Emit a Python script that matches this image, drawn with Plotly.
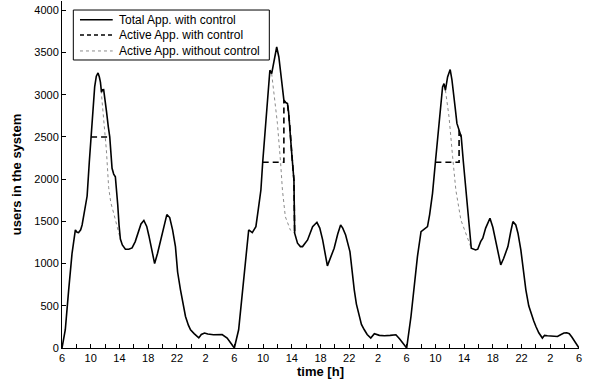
import plotly.graph_objects as go

# ---------------- data (hours since 6:00 of day 1) ----------------
total_hours = [
    0, 0.46, 0.93, 1.4, 1.86, 2.1, 2.3, 2.6, 2.8, 3.1, 3.5, 3.8, 4.05, 4.3, 4.55, 4.78, 5.02, 5.2, 5.35,
    5.5, 5.65, 5.8, 5.95, 6.2, 6.45, 6.65, 6.97, 7.2, 7.43, 7.6, 7.76, 7.95, 8.13, 8.4, 8.83, 9.3, 9.76,
    10.2, 10.7, 11.0, 11.4, 11.8, 12.1, 12.5, 12.9, 13.3, 13.7, 14.1, 14.6, 15.0, 15.4, 15.8, 16.1, 16.5,
    16.9, 17.2, 17.6, 17.9, 18.4, 19.05, 19.4, 19.85, 20.3, 21.1, 22.3, 22.7, 23.0, 23.5,
    24, 24.6, 25.1, 25.6, 26.0, 26.5, 27.0, 27.35, 27.7, 27.95, 28.3, 28.6, 28.95, 29.2, 29.5, 29.9, 30.2,
    30.55, 30.9, 31.1, 31.4, 31.55, 31.7, 32.0, 32.3, 32.4, 32.8, 33.2, 33.5, 34.2, 34.9, 35.5, 35.9, 36.3,
    36.96, 37.4, 37.9, 38.4, 38.8, 39.1, 39.5, 40.1, 40.4, 40.7, 41.0, 41.4, 41.7, 42.1, 42.5, 43.0, 43.5,
    44.2, 44.9, 45.7, 46.5, 47.0, 47.5,
    48, 48.6, 49.0, 49.5, 50.0, 50.4, 50.9, 51.2, 51.6, 52.0, 52.3, 52.7, 53.0, 53.2, 53.4, 53.7, 54.06,
    54.3, 54.5, 54.75, 55.0, 55.3, 55.6, 55.9, 56.25, 56.7, 57.0, 57.6, 57.9, 58.3, 58.6, 59.0, 59.6, 60.0,
    60.4, 60.8, 61.1, 61.5, 62.1, 62.5, 62.8, 63.2, 63.5, 63.9, 64.2, 64.6, 65.0, 65.3, 65.7, 66.0, 66.4,
    66.9, 67.2, 67.6, 68.3, 69.0, 69.5, 69.9, 70.3, 70.65, 71.0, 71.5, 72,
]
total_users = [
    0, 216, 689, 1122, 1398, 1370, 1366, 1400, 1457, 1600, 1800, 2200, 2500, 2820, 3092, 3219, 3258, 3210, 3150,
    3030, 3060, 3061, 2980, 2800, 2620, 2500, 2128, 2060, 2028, 1880, 1700, 1450, 1290, 1220, 1170, 1170, 1185,
    1260, 1380, 1470, 1510, 1440, 1330, 1150, 1000, 1120, 1260, 1420, 1580, 1545, 1400, 1200, 900, 689,
    480, 373, 270, 216, 170, 120, 160, 177, 165, 157, 160, 140, 118, 60,
    0, 216, 650, 1083, 1398, 1366, 1437, 1650, 1871, 2200, 2600, 2974, 3290, 3250, 3369, 3565, 3447,
    3200, 2935, 2910, 2896, 2800, 2660, 2300, 1990, 1360, 1241, 1201, 1201, 1280, 1437, 1489, 1420, 1280,
    973, 1080, 1182, 1350, 1457, 1420, 1339, 1142, 900, 689, 520, 373, 280, 216, 160, 118, 169,
    150, 145, 150, 157, 110, 60,
    0, 373, 700, 1083, 1378, 1400, 1437, 1580, 1832, 2200, 2462, 2856, 3092, 3132, 3053, 3210, 3298,
    3180, 3053, 2850, 2660, 2580, 2501, 2200, 1871, 1437, 1182, 1162, 1170, 1260, 1300, 1420, 1537, 1430,
    1280, 1100, 985, 1060, 1201, 1380, 1497, 1457, 1360, 1162, 950, 689, 500, 413, 320, 255, 180,
    118, 150, 145, 140, 137, 160, 177, 180, 169, 130, 70, 0,
]

# Active applications with control (where it departs from the total)
active_hours = [4.05, 6.65, None,
                27.95, 30.9, 30.9, 31.1, 31.4, 31.55, 31.7, 32.0, 32.3, 32.4, None,
                52.0, 55.3, 55.3, 55.6]
active_users = [2500, 2500, None,
                2200, 2200, 2935, 2910, 2896, 2800, 2660, 2300, 1990, 1360, None,
                2200, 2200, 2580, 2501]

# Active applications without control (where it departs from the total)
free_hours = [5.45, 5.8, 6.18, 6.5, 6.8, 7.2, 7.6, 7.9, 8.13, None,
              29.2, 29.5, 30.0, 30.45, 30.7, 31.1, 31.5, 31.8, 32.3, 32.4, None,
              53.4, 53.9, 54.4, 54.85, 55.55, 56.25, 56.9, 57.0]
free_users = [3050, 2738, 2344, 1900, 1720, 1596, 1450, 1360, 1290, None,
              3250, 3050, 2660, 2187, 1871, 1556, 1450, 1398, 1365, 1360, None,
              3053, 2738, 2265, 1871, 1517, 1360, 1201, 1182]

tick_positions = list(range(0, 73, 2))
tick_labels = ["6", "", "10", "", "14", "", "18", "", "22", "", "2", "",
               "6", "", "10", "", "14", "", "18", "", "22", "", "2", "",
               "6", "", "10", "", "14", "", "18", "", "22", "", "2", "", "6"]
y_ticks = [0, 500, 1000, 1500, 2000, 2500, 3000, 3500, 4000]

series_names = ["Total App. with control", "Active App. with control", "Active App. without control"]

# ---------------- styles ----------------
solid_style = dict(color="black", width=1.6)
dash_style = dict(color="black", width=1.6, dash="6px,4px")
dot_style = dict(color="#8c8c8c", width=1, dash="dot")

fig = go.Figure()
fig.add_trace(go.Scatter(x=free_hours, y=free_users, mode="lines", name=series_names[2],
                         line=dot_style, connectgaps=False, showlegend=False))
fig.add_trace(go.Scatter(x=total_hours, y=total_users, mode="lines", name=series_names[0],
                         line=solid_style, showlegend=False))
fig.add_trace(go.Scatter(x=active_hours, y=active_users, mode="lines", name=series_names[1],
                         line=dash_style, connectgaps=False, showlegend=False))

# ---------------- legend box (drawn in paper coordinates) ----------------
shapes = [dict(type="rect", xref="paper", yref="paper", x0=0.0219, x1=0.401, y0=0.830, y1=0.974,
               line=dict(color="black", width=1), fillcolor="white", layer="above")]
annotations = []
row_y = [0.946, 0.902, 0.856]
legend_lines = [dict(color="black", width=1.3),
                dict(color="black", width=1.4, dash="4px,3px"),
                dict(color="#8c8c8c", width=1, dash="dot")]
for name, yy, st in zip(series_names, row_y, legend_lines):
    shapes.append(dict(type="line", xref="paper", yref="paper", x0=0.0348, x1=0.0981, y0=yy, y1=yy,
                       line=st, layer="above"))
    annotations.append(dict(text=name, xref="paper", yref="paper", x=0.106, y=yy,
                            xanchor="left", yanchor="middle", showarrow=False,
                            font=dict(size=12, color="black")))

font_family = "Arial, Liberation Sans, Helvetica, sans-serif"
fig.update_layout(
    width=590, height=387,
    margin=dict(l=62, r=11, t=1, b=39),
    paper_bgcolor="white", plot_bgcolor="white",
    font=dict(family=font_family, size=11, color="black"),
    showlegend=False,
    shapes=shapes,
    annotations=annotations,
)
fig.update_xaxes(
    range=[0, 72], tickmode="array", tickvals=tick_positions, ticktext=tick_labels,
    ticks="inside", ticklen=4, tickcolor="black", tickwidth=1,
    showline=True, linecolor="black", linewidth=1, showgrid=False, zeroline=False,
    title=dict(text="<b>time [h]</b>", font=dict(size=13), standoff=2),
    tickfont=dict(size=11),
)
fig.update_yaxes(
    range=[0, 4110], tickmode="array", tickvals=y_ticks,
    ticks="inside", ticklen=4, tickcolor="black", tickwidth=1,
    showline=True, linecolor="black", linewidth=1, showgrid=False, zeroline=False,
    title=dict(text="<b>users in the system</b>", font=dict(size=13), standoff=9),
    tickfont=dict(size=11),
)

fig.write_html("out.html", config={"displayModeBar": False},
               post_script="document.body.style.margin='0px';")
